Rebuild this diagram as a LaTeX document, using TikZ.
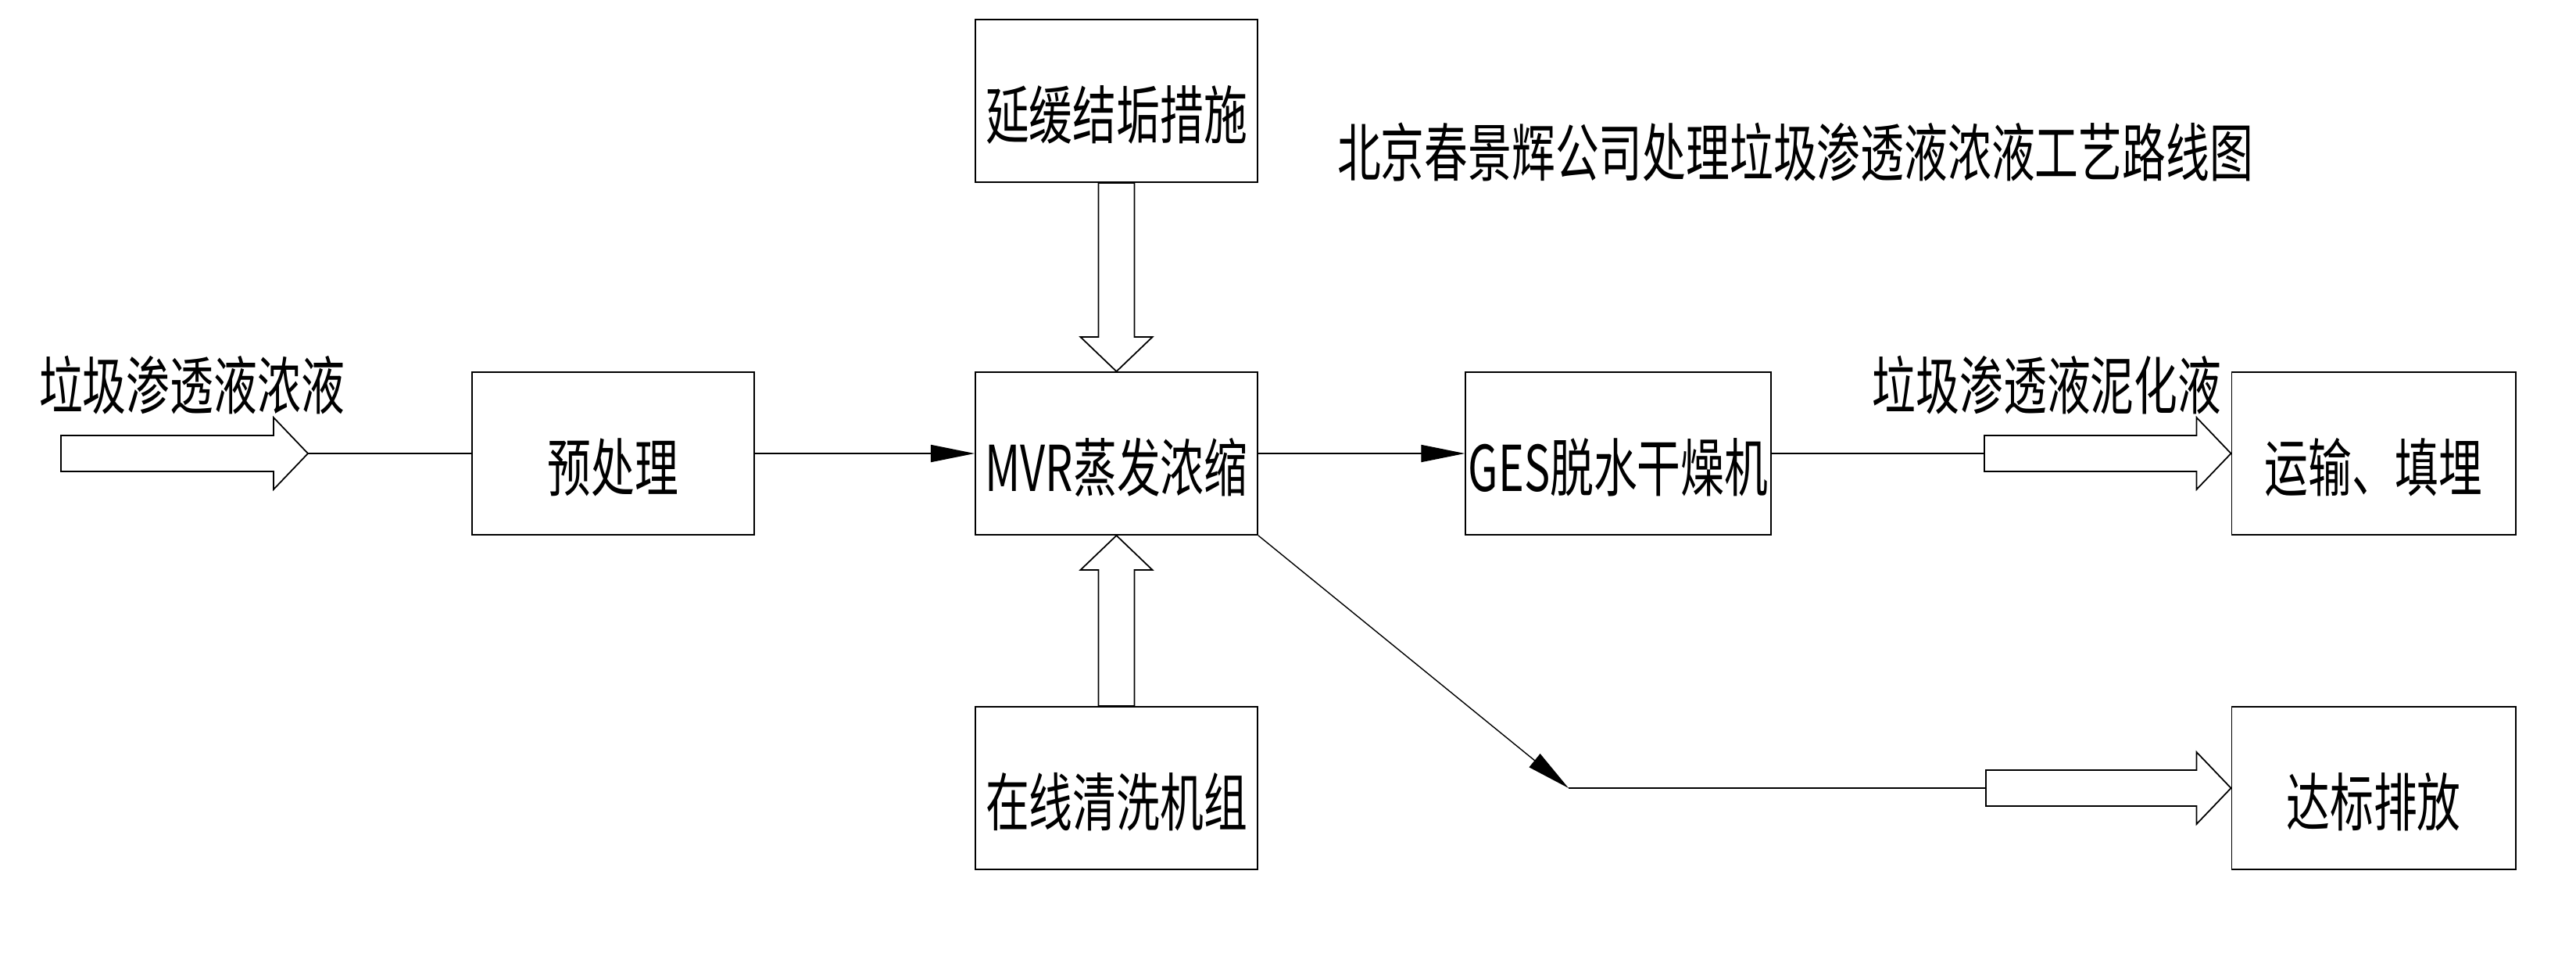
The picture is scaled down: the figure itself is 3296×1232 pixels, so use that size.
\documentclass[tikz,border=0pt]{standalone}
\usepackage{fontspec}
\setmainfont[FakeStretch=0.69]{Noto Sans CJK SC}
\usetikzlibrary{arrows.meta,calc,positioning}

% hollow block arrow from tail #1 to tip #2
\newcommand{\fatarrow}[2]{%
	\coordinate (fa-base) at ($(#2)!0.44cm!(#1)$);
	\draw[fat] ($(#1)!0.23cm!90:(#2)$) -- ($(fa-base)!0.23cm!90:(#2)$)
		-- ($(fa-base)!0.46cm!90:(#2)$) -- (#2)
		-- ($(fa-base)!0.46cm!-90:(#2)$) -- ($(fa-base)!0.23cm!-90:(#2)$)
		-- ($(#1)!0.23cm!-90:(#2)$) -- cycle;
}

\begin{document}
\begin{tikzpicture}[x=0.01cm, y=-0.01cm,
		font=\fontsize{23pt}{27pt}\selectfont,
		box/.style={draw, line width=0.5pt, minimum width=3.61cm, minimum height=2.08cm,
			inner sep=1pt, text height=1.06cm, text depth=0.1cm},
		flow/.style={line width=0.5pt, -{Triangle[length=5.6mm, width=2.2mm]}},
		fat/.style={line width=0.5pt, fill=white},
	]
		\useasboundingbox (0,0) rectangle (3296,1232);

		\node[box] (pre) at (784.5,580) {预处理};
		\node[box] (mvr) at (1428.5,580) {MVR蒸发浓缩};
		\node[box] (antiscale) at (1428.5,129) {延缓结垢措施};
		\node[box] (wash) at (1428.5,1008) {在线清洗机组};
		\node[box, minimum width=3.81cm] (ges) at (2070.5,580) {GES脱水干燥机};
		\node[box, minimum width=3.63cm] (landfill) at (3037,580) {运输、填埋};
		\node[box, minimum width=3.63cm] (discharge) at (3037,1008) {达标排放};

		\node (title) at (2297,195) {北京春景辉公司处理垃圾渗透液浓液工艺路线图};
		\node (feedlbl) at (245.5,493) {垃圾渗透液浓液};
		\node (sludgelbl) at (2619,493) {垃圾渗透液泥化液};

		\coordinate (feed) at (78,580);
		\coordinate (feedtip) at (394,580);
		\coordinate (sludge) at (2539,580);
		\coordinate (bend) at (2007,1008);
		\coordinate (clean) at (2541,1008);

		% main line
		\fatarrow{feed}{feedtip}
		\draw[line width=0.5pt] (feedtip) -- (pre);
		\draw[flow] (pre) -- (mvr);
		\draw[flow] (mvr) -- (ges);
		\draw[line width=0.5pt] (ges) -- (sludge);
		\fatarrow{sludge}{landfill.west}

		% side units
		\fatarrow{antiscale.south}{mvr.north}
		\fatarrow{wash.north}{mvr.south}

		% condensate
		\draw[flow, line width=0.4pt] (mvr.south east) -- (bend);
		\draw[line width=0.5pt] (bend) -- (clean);
		\fatarrow{clean}{discharge.west}
	\end{tikzpicture}
\end{document}
